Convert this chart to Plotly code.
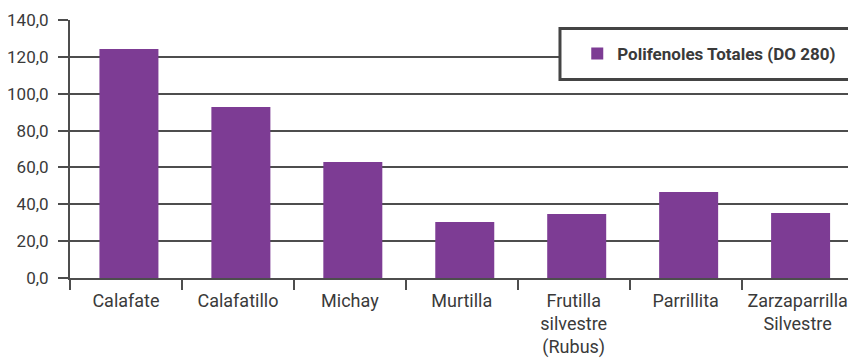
import plotly.graph_objects as go

categories = ["Calafate", "Calafatillo", "Michay", "Murtilla",
              "Frutilla<br>silvestre<br>(Rubus)", "Parrillita", "Zarzaparrilla<br>Silvestre"]
values = [124.3, 92.8, 62.9, 30.4, 34.7, 46.7, 35.3]
series_name = "Polifenoles Totales (DO 280)"
y_ticks = [0, 20, 40, 60, 80, 100, 120, 140]

FONT = "Roboto, Liberation Sans, sans-serif"
TXT = "#3a3a3a"
GRID = "#4d4d4d"
PURPLE = "#7d3c94"

fig = go.Figure()
fig.add_trace(go.Bar(
    x=categories, y=values, name=series_name,
    marker=dict(color=PURPLE, line=dict(width=0)),
    width=0.527, offset=-0.237, showlegend=True,
))

fig.update_layout(
    width=848, height=364,
    margin=dict(l=70, r=0, t=20, b=86, autoexpand=False),
    paper_bgcolor="white", plot_bgcolor="white",
    font=dict(family=FONT, size=17, color=TXT),
    separators=",.",
    showlegend=True,
    legend=dict(
        x=0.652, xanchor="left", y=0.868, yanchor="middle",
        bgcolor="rgba(0,0,0,0)", borderwidth=0,
        font=dict(family=FONT, size=17, color=TXT, weight="bold"),
    ),
    shapes=[dict(
        type="rect", xref="paper", yref="paper",
        x0=0.6298, x1=1.05, y0=0.769, y1=0.967,
        line=dict(color="#444444", width=3), fillcolor="white", layer="above",
    )],
)

fig.update_xaxes(
    type="category", range=[-0.5, 6.45], automargin=False, tickangle=0,
    showline=True, linecolor=GRID, linewidth=2,
    ticks="outside", tickson="boundaries", ticklen=10, tickwidth=2, tickcolor=GRID,
    ticklabelstandoff=5,
    showgrid=False, tickfont=dict(family=FONT, size=18, color=TXT),
)
fig.update_yaxes(
    range=[0, 140], tickvals=y_ticks, tickformat=".1f", automargin=False,
    showline=True, linecolor=GRID, linewidth=2,
    ticks="outside", ticklen=10, tickwidth=2, tickcolor=GRID,
    ticklabelstandoff=6,
    showgrid=True, gridcolor=GRID, gridwidth=1.6, zeroline=False,
    tickfont=dict(family=FONT, size=17, color=TXT),
)

fig.write_html("out.html")
